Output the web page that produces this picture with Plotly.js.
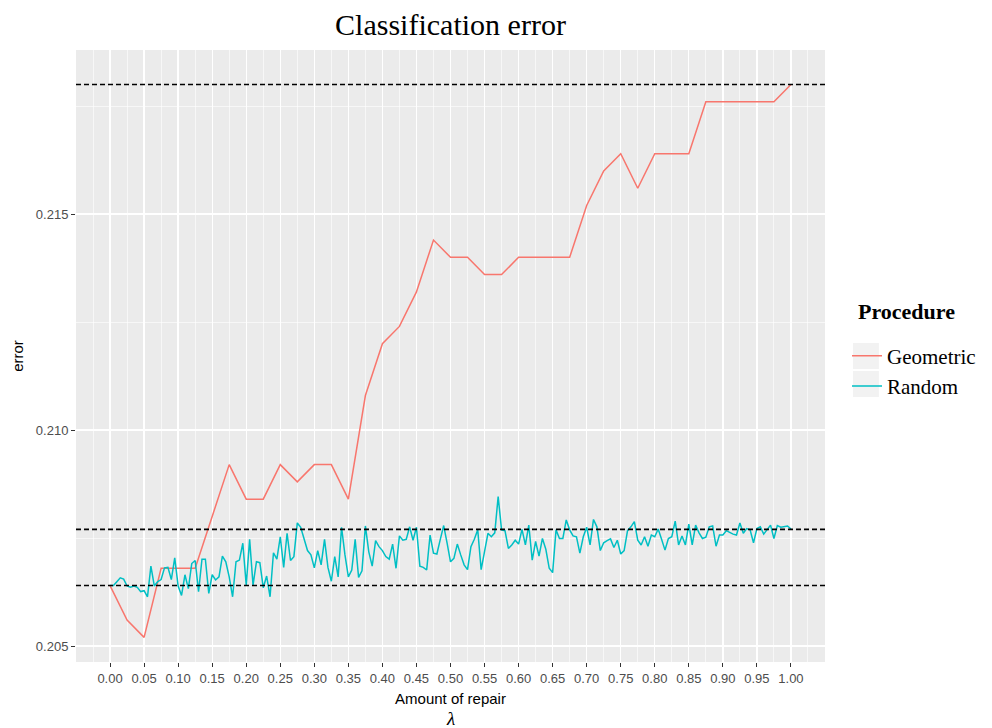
<!DOCTYPE html>
<html>
<head>
<meta charset="utf-8">
<script src="https://cdn.plot.ly/plotly-3.0.1.min.js"></script>
<style>html,body{margin:0;padding:0;background:#fff;}#chart{width:992px;height:728px;}</style>
</head>
<body>
<div id="chart"></div>
<script>
// Geometric repair: lambda grid of 0.025
const geoLambda = [0.000,0.025,0.050,0.075,0.100,0.125,0.150,0.175,0.200,0.225,0.250,0.275,0.300,0.325,0.350,0.375,0.400,0.425,0.450,0.475,0.500,0.525,0.550,0.575,0.600,0.625,0.650,0.675,0.700,0.725,0.750,0.775,0.800,0.825,0.850,0.875,0.900,0.925,0.950,0.975,1.000];
const geoError = [0.2064,0.2056,0.2052,0.2068,0.2068,0.2068,0.2080,0.2092,0.2084,0.2084,0.2092,0.2088,0.2092,0.2092,0.2084,0.2108,0.2120,0.2124,0.2132,0.2144,0.2140,0.2140,0.2136,0.2136,0.2140,0.2140,0.2140,0.2140,0.2152,0.2160,0.2164,0.2156,0.2164,0.2164,0.2164,0.2176,0.2176,0.2176,0.2176,0.2176,0.2180];

// Random repair: lambda grid of 0.005 (0.00 ... 1.00)
const randStep = 0.005;
const randError = [
0.20640,0.20640,0.20649,0.20658,0.20655,0.20639,0.20636,0.20639,0.20636,0.20626,
0.20628,0.20614,0.20685,0.20639,0.20649,0.20654,0.20681,0.20682,0.20654,0.20704,
0.20639,0.20617,0.20665,0.20633,0.20691,0.20698,0.20626,0.20701,0.20701,0.20622,
0.20665,0.20653,0.20660,0.20708,0.20695,0.20660,0.20614,0.20695,0.20699,0.20738,
0.20641,0.20747,0.20641,0.20695,0.20693,0.20635,0.20662,0.20614,0.20716,0.20701,
0.20753,0.20682,0.20761,0.20698,0.20707,0.20785,0.20775,0.20745,0.20721,0.20711,
0.20681,0.20721,0.20688,0.20747,0.20682,0.20650,0.20707,0.20660,0.20775,0.20711,
0.20660,0.20676,0.20747,0.20659,0.20674,0.20778,0.20718,0.20685,0.20744,0.20730,
0.20721,0.20707,0.20701,0.20736,0.20680,0.20755,0.20745,0.20747,0.20776,0.20745,
0.20775,0.20685,0.20682,0.20676,0.20757,0.20715,0.20713,0.20747,0.20779,0.20738,
0.20695,0.20703,0.20736,0.20711,0.20688,0.20677,0.20730,0.20747,0.20769,0.20677,
0.20718,0.20761,0.20753,0.20762,0.20846,0.20769,0.20767,0.20726,0.20734,0.20745,
0.20736,0.20770,0.20734,0.20780,0.20699,0.20742,0.20708,0.20749,0.20724,0.20680,
0.20670,0.20769,0.20749,0.20749,0.20792,0.20769,0.20755,0.20753,0.20715,0.20753,
0.20775,0.20734,0.20793,0.20776,0.20721,0.20739,0.20744,0.20748,0.20728,0.20745,
0.20713,0.20721,0.20767,0.20776,0.20788,0.20745,0.20734,0.20753,0.20731,0.20757,
0.20753,0.20771,0.20747,0.20722,0.20749,0.20753,0.20789,0.20734,0.20755,0.20734,
0.20782,0.20734,0.20780,0.20762,0.20749,0.20752,0.20776,0.20778,0.20731,0.20757,
0.20757,0.20767,0.20763,0.20759,0.20757,0.20785,0.20761,0.20772,0.20769,0.20739,
0.20772,0.20776,0.20759,0.20769,0.20780,0.20749,0.20779,0.20775,0.20776,0.20778,
0.20771];
const randLambda = randError.map((_, i) => +(i * randStep).toFixed(3));

// Reference (dashed) levels
const refLevels = [0.2180, 0.2077, 0.2064];

// Tick labels
const xTickVals = [0.00,0.05,0.10,0.15,0.20,0.25,0.30,0.35,0.40,0.45,0.50,0.55,0.60,0.65,0.70,0.75,0.80,0.85,0.90,0.95,1.00];
const xTickText = ["0.00","0.05","0.10","0.15","0.20","0.25","0.30","0.35","0.40","0.45","0.50","0.55","0.60","0.65","0.70","0.75","0.80","0.85","0.90","0.95","1.00"];
const yTickVals = [0.205, 0.210, 0.215];
const yTickText = ["0.205", "0.210", "0.215"];

const serif = "Liberation Serif, DejaVu Serif, serif";
const sans = "Liberation Sans, Arial, sans-serif";

const traces = [
  {x: geoLambda, y: geoError, type: "scatter", mode: "lines", name: "Geometric",
   line: {color: "#F8766D", width: 1.5}},
  {x: randLambda, y: randError, type: "scatter", mode: "lines", name: "Random",
   line: {color: "#00BFC4", width: 1.5}}
];

// paper coordinate helpers (plot area 76..826 x 50..662)
const px = v => (v - 76) / 750;
const py = v => 1 - (v - 50) / 612;

const shapes = refLevels.map(v => ({
  type: "line", xref: "paper", yref: "y", x0: 0, x1: 1, y0: v, y1: v,
  line: {color: "#000000", width: 1.6, dash: "5px,3px"}, layer: "above"
}));
// grey legend key boxes (ggplot style)
[[343, 369], [371, 397]].forEach(([a, b]) => shapes.push({
  type: "rect", xref: "paper", yref: "paper", x0: px(854), x1: px(880), y0: py(b), y1: py(a),
  fillcolor: "#F2F2F2", line: {width: 0}, layer: "below"
}));

const layout = {
  width: 992, height: 728,
  margin: {l: 76, r: 166, t: 50, b: 66, pad: 0},
  paper_bgcolor: "#FFFFFF",
  plot_bgcolor: "#EBEBEB",
  title: {text: "Classification error", font: {family: serif, size: 30, color: "#000"},
          x: 0.5, xref: "paper", xanchor: "center", y: 0.967, yref: "container", yanchor: "middle"},
  xaxis: {
    range: [-0.05, 1.05], tickvals: xTickVals, ticktext: xTickText,
    showgrid: true, gridcolor: "#FFFFFF", gridwidth: 1.3, zeroline: false,
    minor: {dtick: 0.025, tick0: 0.025, showgrid: true, gridcolor: "#FFFFFF", gridwidth: 0.6, ticks: ""},
    ticks: "outside", ticklen: 4, tickcolor: "#333333", tickwidth: 1,
    tickfont: {family: sans, size: 13, color: "#4D4D4D"},
    title: {text: "Amount of repair", font: {family: sans, size: 15, color: "#000"}, standoff: 8},
    showline: false
  },
  yaxis: {
    range: [0.20463, 0.21880], tickvals: yTickVals, ticktext: yTickText,
    showgrid: true, gridcolor: "#FFFFFF", gridwidth: 1.3, zeroline: false,
    minor: {tickvals: [0.2075, 0.2125, 0.2175], showgrid: true, gridcolor: "#FFFFFF", gridwidth: 0.6, ticks: ""},
    ticks: "outside", ticklen: 4, tickcolor: "#333333", tickwidth: 1,
    tickfont: {family: sans, size: 13, color: "#4D4D4D"},
    title: {text: "error", font: {family: sans, size: 15, color: "#000"}, standoff: 8},
    showline: false
  },
  shapes: shapes,
  annotations: [
    {text: "<i>λ</i>", xref: "paper", yref: "paper", x: 0.5, y: 0, yshift: -56, xanchor: "center", yanchor: "middle",
     showarrow: false, font: {family: serif, size: 19, color: "#000"}},
    {text: "<b>Procedure</b>", xref: "paper", yref: "paper", x: px(857), y: py(311), xanchor: "left", yanchor: "middle",
     showarrow: false, font: {family: serif, size: 22, color: "#000"}}
  ],
  legend: {
    x: px(847), xanchor: "left", y: py(371), yanchor: "middle",
    bgcolor: "rgba(0,0,0,0)", borderwidth: 0,
    font: {family: serif, size: 21, color: "#000"},
    tracegroupgap: 0
  },
  showlegend: true
};

Plotly.newPlot("chart", traces, layout, {displayModeBar: false, staticPlot: true});
</script>
</body>
</html>
